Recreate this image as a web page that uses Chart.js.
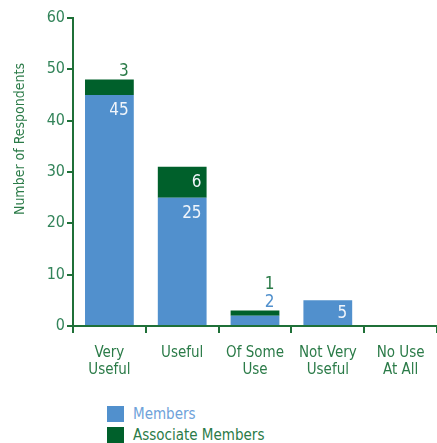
<!DOCTYPE html>
<html>
<head>
<meta charset="utf-8">
<script src="https://cdn.jsdelivr.net/npm/chart.js@4"></script>
<style>
  body { margin: 0; background: #fff; }
  #wrap { position: relative; width: 437px; height: 443px; }
  #chart { position: absolute; left: 0; top: 0; }
  .legend { position: absolute; left: 107px; top: 403px; font-family: 'DejaVu Sans Condensed', 'Liberation Sans Narrow', sans-serif; font-size: 15px; }
  .legend div { height: 21px; display: flex; align-items: center; }
  .legend span.box { display: inline-block; width: 17px; height: 16px; margin-right: 9px; }
</style>
</head>
<body>
<div id="wrap">
  <canvas id="chart" width="437" height="390"></canvas>
  <div class="legend" id="legend"></div>
</div>
<script>
// chart data
const categories = [['Very', 'Useful'], 'Useful', ['Of Some', 'Use'], ['Not Very', 'Useful'], ['No Use', 'At All']];
const members = [45, 25, 2, 5, 0];
const associates = [3, 6, 1, 0, 0];
const yTicks = [0, 10, 20, 30, 40, 50, 60];

const BLUE = '#5190cd';
const DARK = '#00602b';
const TEXT = '#2b7b48';
const FONT = "'DejaVu Sans Condensed', 'Liberation Sans Narrow', sans-serif";

// value labels: inside the segment if it is tall enough, otherwise stacked above the bar
const valueLabels = {
  id: 'valueLabels',
  afterDatasetsDraw(chart) {
    const ctx = chart.ctx;
    ctx.save();
    ctx.font = '17px ' + FONT;
    ctx.textAlign = 'right';
    ctx.textBaseline = 'bottom';
    const metas = [chart.getDatasetMeta(0), chart.getDatasetMeta(1)];
    const aboveColors = [BLUE, TEXT];
    categories.forEach((c, i) => {
      let aboveY = metas[1].data[i].y;
      metas.forEach((meta, d) => {
        const v = chart.data.datasets[d].data[i];
        if (!v) return;
        const bar = meta.data[i];
        const right = bar.x + bar.width / 2 - 5;
        const h = bar.base - bar.y;
        if (h >= 24) {
          ctx.fillStyle = '#f0f5fb';
          ctx.fillText(String(v), right, Math.min(bar.y + 24, bar.base - 3));
        } else {
          ctx.fillStyle = aboveColors[d];
          ctx.fillText(String(v), right, aboveY);
          aboveY -= 18;
        }
      });
    });
    // y axis title
    ctx.translate(27, 139);
    ctx.rotate(-Math.PI / 2);
    ctx.textAlign = 'center';
    ctx.textBaseline = 'bottom';
    ctx.font = '14px ' + FONT;
    ctx.fillStyle = TEXT;
    ctx.fillText('Number of Respondents', 0, 0);
    ctx.restore();
  }
};

const chart = new Chart(document.getElementById('chart'), {
  type: 'bar',
  data: {
    labels: categories,
    datasets: [
      { label: 'Members', data: members, backgroundColor: BLUE },
      { label: 'Associate Members', data: associates, backgroundColor: DARK }
    ]
  },
  options: {
    responsive: false,
    animation: false,
    layout: { padding: { top: 18, right: 0, left: 0, bottom: 0 } },
    plugins: { legend: { display: false }, tooltip: { enabled: false } },
    datasets: { bar: { categoryPercentage: 1, barPercentage: 0.67 } },
    scales: {
      x: {
        stacked: true,
        border: { color: '#1f7038', width: 2 },
        grid: { drawOnChartArea: false, tickLength: 7, tickColor: '#1f7038', lineWidth: 2, offset: true },
        ticks: { color: TEXT, font: { family: FONT, size: 15, lineHeight: 1.15 }, padding: 11, maxRotation: 0 },
        afterFit: s => { s.height = 64; }
      },
      y: {
        stacked: true,
        min: 0,
        max: 60,
        afterBuildTicks: s => { s.ticks = yTicks.map(v => ({ value: v })); },
        border: { color: '#1f7038', width: 2 },
        grid: { drawOnChartArea: false, tickLength: 6, tickColor: '#1f7038', lineWidth: 2 },
        ticks: { color: '#33845a', font: { family: FONT, size: 16 }, padding: 2 },
        afterFit: s => { s.width = 73; }
      }
    }
  },
  plugins: [valueLabels]
});

// legend built from datasets
const legend = document.getElementById('legend');
const legendColors = [[BLUE, '#6ea2da'], [DARK, TEXT]];
chart.data.datasets.forEach((ds, i) => {
  const row = document.createElement('div');
  row.innerHTML = `<span class="box" style="background:${legendColors[i][0]}"></span><span style="color:${legendColors[i][1]}">${ds.label}</span>`;
  legend.appendChild(row);
});
</script>
</body>
</html>
